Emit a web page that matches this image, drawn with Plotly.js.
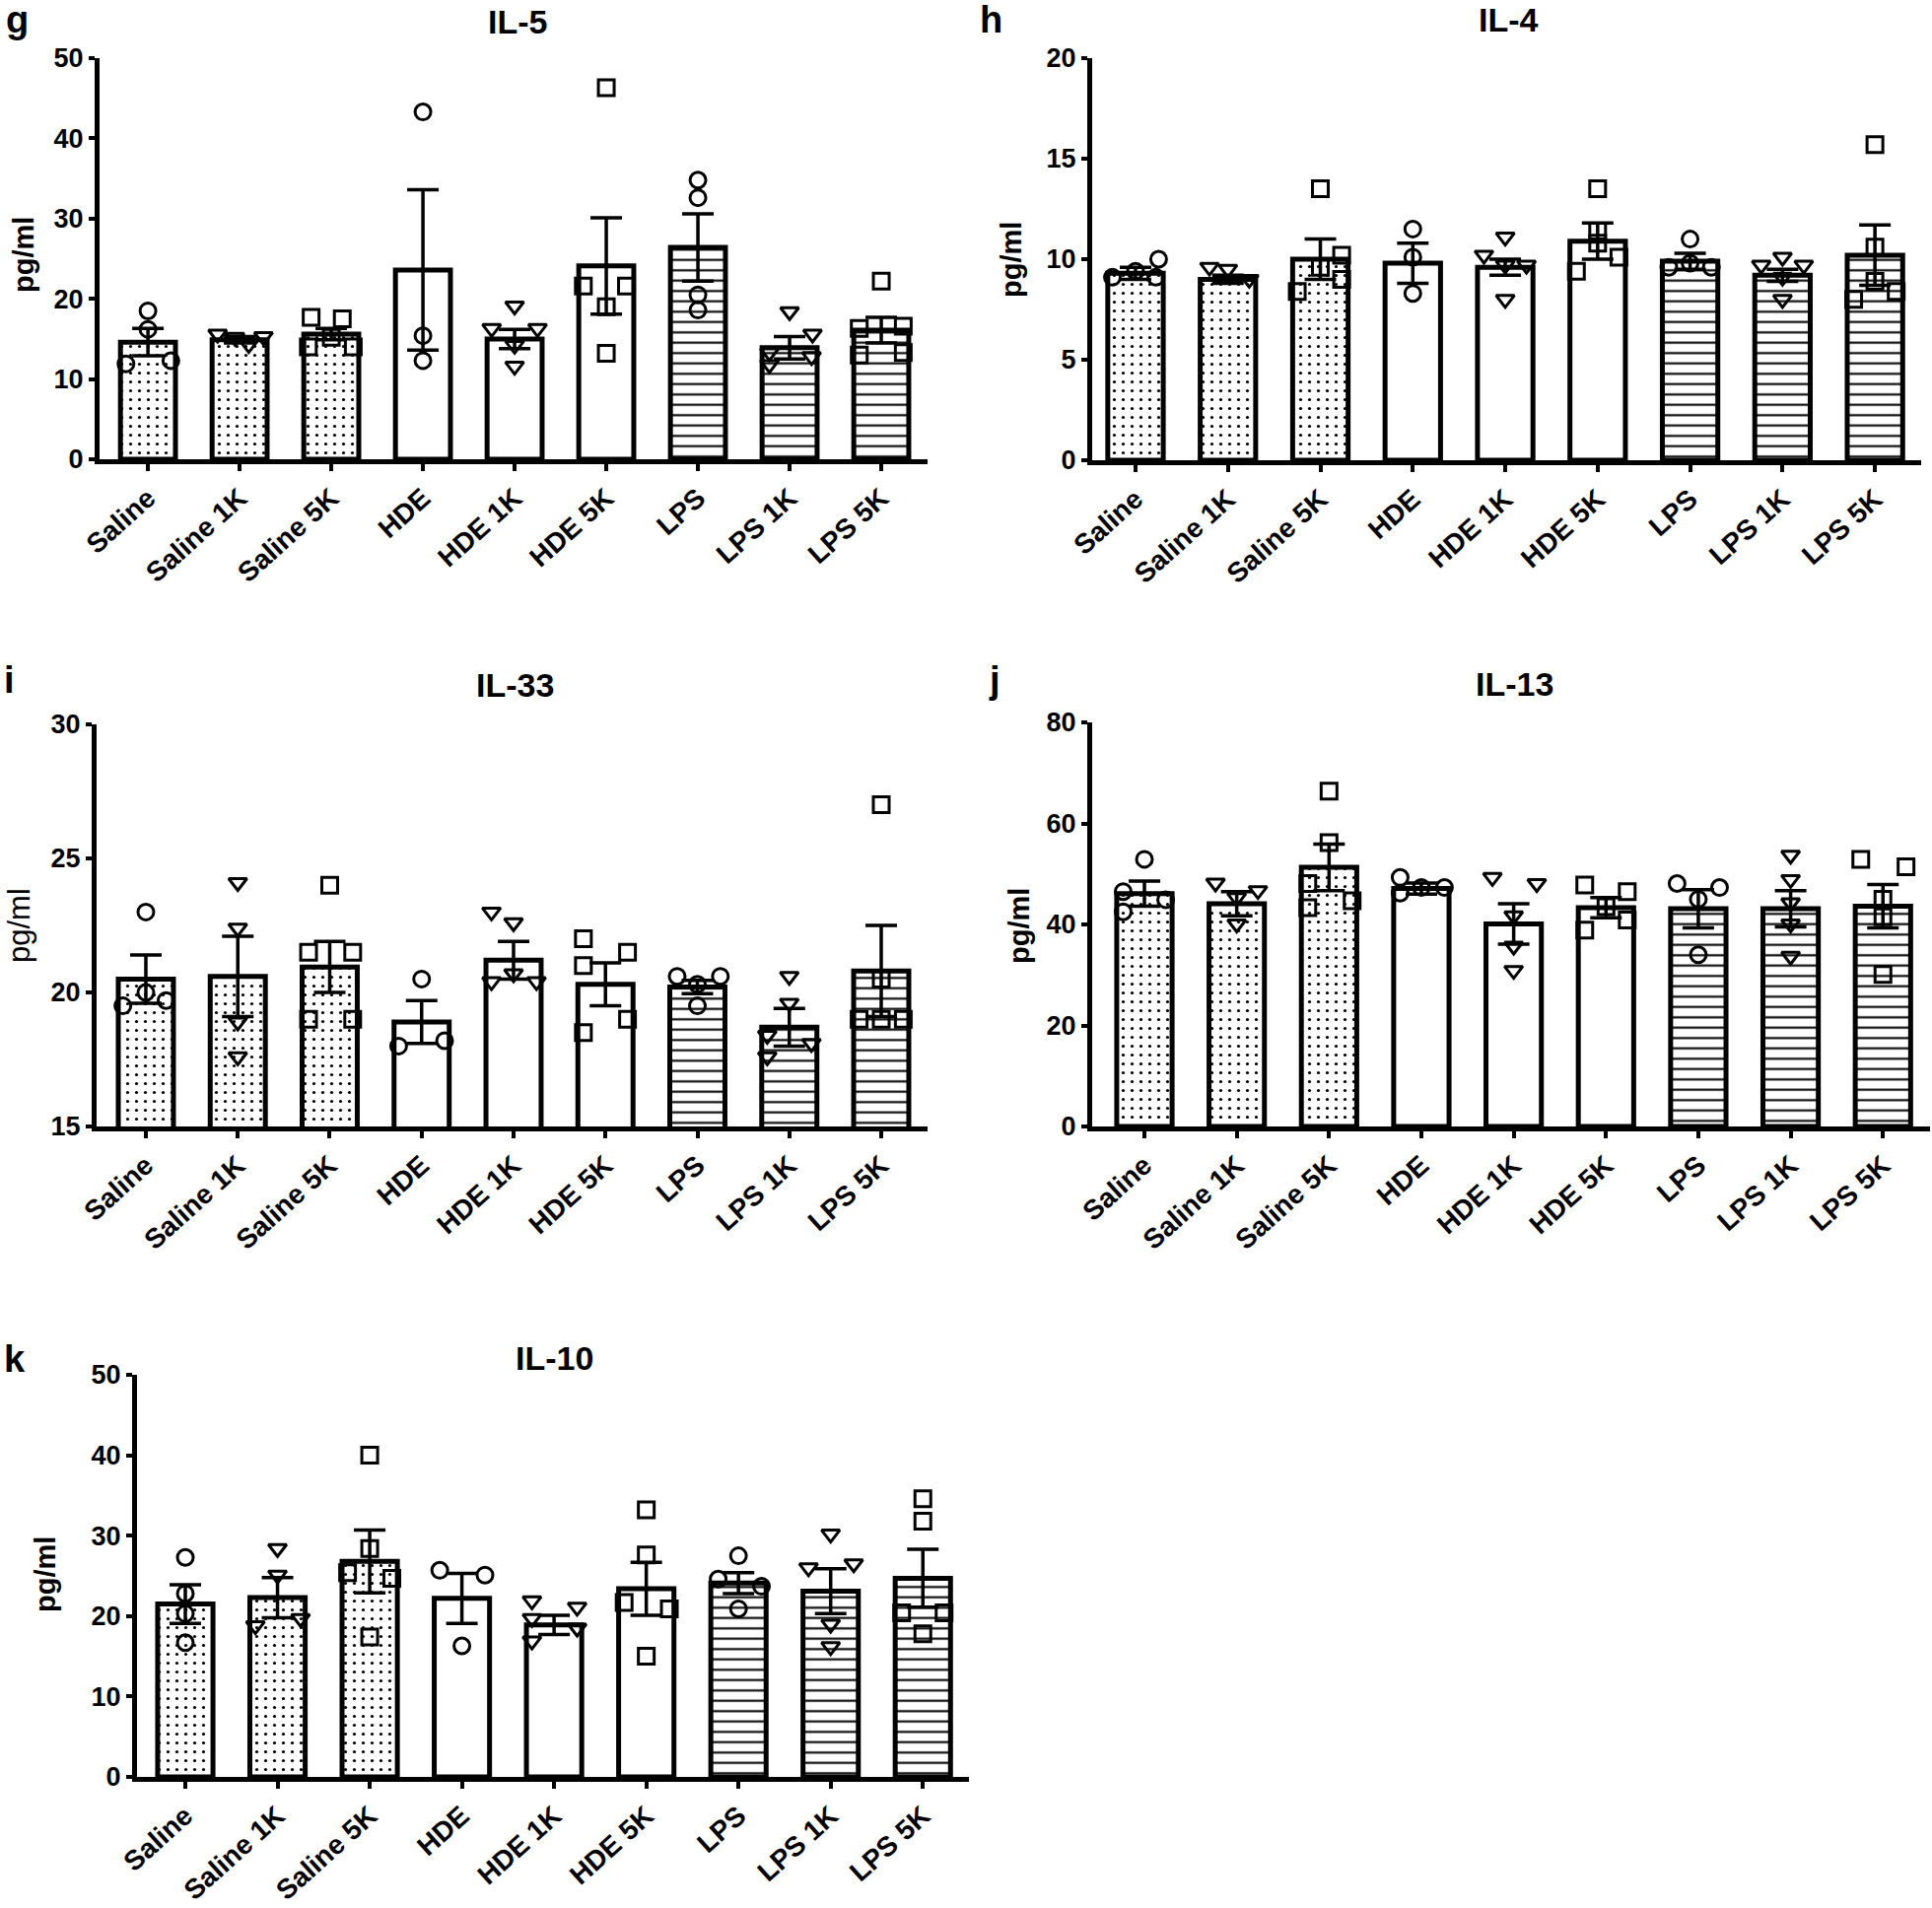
<!DOCTYPE html>
<html>
<head>
<meta charset="utf-8">
<script src="https://cdn.plot.ly/plotly-3.0.1.min.js"></script>
<style>html,body{margin:0;padding:0;background:#fff}#chart{width:1960px;height:1936px}</style>
</head>
<body>
<div id="chart"></div>
<script>
// ---------- data ----------
const categories = ['Saline', 'Saline 1K', 'Saline 5K', 'HDE', 'HDE 1K', 'HDE 5K', 'LPS', 'LPS 1K', 'LPS 5K'];
const pointSymbols = ['circle-open', 'triangle-down-open', 'square-open', 'circle-open', 'triangle-down-open', 'square-open', 'circle-open', 'triangle-down-open', 'square-open'];
const barPatterns = ['.', '.', '.', '', '', '', '-', '-', '-'];

// IL-5
const il5Mean = [14.6, 14.9, 15.6, 23.6, 15.0, 24.1, 26.4, 13.9, 16.1];
const il5Sem = [1.7, 0.4, 0.7, 10.0, 1.2, 6.0, 4.2, 1.4, 1.6];
const il5Points = [[18.5, 16.2, 11.9, 12.3], [15.6, 15.2, 14.3, 15.3], [17.7, 17.5, 14.0, 14.0, 15.2], [43.3, 15.4, 12.3], [19.1, 16.3, 16.3, 14.2, 11.6], [46.3, 21.6, 21.6, 19.0, 13.2], [34.8, 32.6, 20.5, 18.6], [18.4, 15.6, 13.3, 11.8, 12.8], [22.2, 16.3, 16.6, 13.0, 13.3]];
const il5Offsets = [[0, 0, -0.24, 0.25], [-0.24, -0.05, 0.1, 0.26], [-0.22, 0.12, -0.25, 0.24, 0], [0, 0, 0], [0, -0.25, 0.25, 0, 0], [0, -0.25, 0.22, 0, 0], [0, 0, 0, 0], [0, 0.25, -0.22, -0.22, 0.24], [0, -0.24, 0.24, -0.24, 0.24]];

// IL-4
const il4Mean = [9.3, 9.0, 10.0, 9.8, 9.6, 10.9, 9.9, 9.2, 10.2];
const il4Sem = [0.3, 0.2, 1.0, 1.0, 0.4, 0.9, 0.4, 0.3, 1.5];
const il4Points = [[9.1, 9.4, 10.0, 9.1], [9.6, 9.5, 9.0], [13.5, 10.2, 9.6, 9.0, 8.4], [11.5, 10.1, 8.3], [11.1, 10.2, 9.7, 9.7, 8.0], [13.5, 11.4, 10.8, 9.4, 10.1], [11.0, 9.6, 9.6, 9.8], [10.1, 9.7, 9.7, 9.1, 8.0], [15.7, 10.6, 8.9, 8.0, 8.4]];
const il4Offsets = [[-0.25, 0, 0.25, 0.22], [-0.2, 0, 0.23], [0, 0.23, 0, 0.23, -0.25], [0, 0, 0], [0, -0.23, 0, 0.23, 0], [0, 0, 0, -0.23, 0.23], [0, -0.23, 0.23, 0], [0, -0.23, 0.23, 0, 0], [0, 0, 0, -0.23, 0.23]];

// IL-33
const il33Mean = [20.5, 20.6, 20.95, 18.9, 21.2, 20.3, 20.2, 18.7, 20.8];
const il33Sem = [0.9, 1.5, 0.95, 0.8, 0.7, 0.8, 0.25, 0.7, 1.7];
const il33Points = [[23.0, 20.0, 19.5, 19.7], [24.1, 22.4, 18.9, 17.6], [24.0, 21.5, 21.5, 19.0, 19.0], [20.5, 18.0, 18.2], [23.0, 22.6, 20.4, 20.7, 20.4], [22.0, 21.5, 21.0, 19.0, 18.5], [20.6, 20.6, 20.3, 19.5], [20.6, 19.6, 18.4, 17.6, 18.1], [27.0, 20.5, 19.0, 19.0, 19.0]];
const il33Offsets = [[0, 0, -0.25, 0.22], [0, 0, 0, 0], [0, -0.23, 0.25, -0.23, 0.25], [0, -0.25, 0.25], [-0.24, 0, -0.24, 0, 0.25], [-0.24, 0.24, -0.24, 0.24, -0.24], [-0.22, 0.25, 0, 0], [0, 0, -0.24, -0.24, 0.24], [0, 0, -0.24, 0, 0.24]];

// IL-13
const il13Mean = [46.1, 44.1, 51.3, 47.1, 40.1, 43.3, 43.1, 43.1, 43.6];
const il13Sem = [2.5, 2.4, 4.6, 1.1, 4.0, 2.0, 3.8, 3.6, 4.3];
const il13Points = [[52.9, 46.5, 44.9, 42.5], [48.2, 46.7, 45.3, 40.1], [66.4, 56.2, 48.1, 43.3, 44.7], [49.3, 46.2, 47.3, 47.3], [49.3, 48.1, 41.7, 35.7, 30.9], [47.8, 46.5, 43.5, 38.9, 40.9], [48.1, 47.3, 45.0, 34.0], [53.7, 48.9, 44.3, 40.1, 33.7], [52.9, 51.4, 45.0, 41.5, 30.1]];
const il13Offsets = [[0, -0.23, 0.23, -0.23], [-0.23, 0.23, 0, 0], [0, 0, -0.23, -0.23, 0.25], [-0.23, -0.23, 0, 0.25], [-0.23, 0.25, 0, 0, 0], [-0.23, 0.23, 0, -0.23, 0.23], [-0.23, 0.23, 0, 0], [0, 0, 0, 0, 0], [-0.24, 0.25, 0, 0, 0]];

// IL-10
const il10Mean = [21.5, 22.3, 26.8, 22.2, 18.9, 23.4, 24.1, 23.1, 24.7];
const il10Sem = [2.4, 2.5, 3.9, 3.1, 1.2, 3.3, 1.3, 2.8, 3.6];
const il10Points = [[27.3, 22.8, 20.3, 16.7], [28.4, 25.1, 18.8, 19.7], [40.0, 28.4, 25.4, 24.7, 17.4], [25.7, 25.1, 16.3], [21.9, 21.1, 19.7, 18.5, 16.9], [33.2, 27.6, 21.7, 20.9, 15.0], [27.5, 24.6, 23.7, 20.9], [30.2, 26.0, 26.5, 19.0, 16.2], [34.6, 31.8, 20.4, 20.4, 17.8]];
const il10Offsets = [[0, 0, 0, 0], [0, 0, -0.24, 0.25], [0, 0, -0.24, 0.24, 0], [-0.24, 0.25, 0], [-0.24, 0.25, -0.24, 0.25, -0.24], [0, 0, -0.24, 0.25, 0], [0, -0.22, 0.25, 0], [0, -0.24, 0.25, 0, 0], [0, 0, -0.23, 0.23, 0]];

// ---------- layout helpers ----------
const W = 1960, H = 1936;
const FONT = 'Arial, "Liberation Sans", Helvetica, sans-serif';

const panels = [
  {letter: 'g', title: 'IL-5',  mean: il5Mean,  sem: il5Sem,  pts: il5Points,  offs: il5Offsets,  yr: [0, 50], dtick: 10, boldY: true,
   box: {l: 101, r: 941, t: 59, b: 466}, xr: [-0.528, 8.505], letterPos: [4, 20], titlePos: [525, 22], ylabPos: [24, 259]},
  {letter: 'h', title: 'IL-4',  mean: il4Mean,  sem: il4Sem,  pts: il4Points,  offs: il4Offsets,  yr: [0, 20], dtick: 5, boldY: true,
   box: {l: 1108, r: 1949, t: 59, b: 467}, xr: [-0.469, 8.5], letterPos: [992, 20], titlePos: [1530, 20], ylabPos: [1026, 264]},
  {letter: 'i', title: 'IL-33', mean: il33Mean, sem: il33Sem, pts: il33Points, offs: il33Offsets, yr: [15, 30], dtick: 5, boldY: false,
   box: {l: 98, r: 941, t: 735, b: 1143}, xr: [-0.536, 8.504], letterPos: [2, 690], titlePos: [522, 695], ylabPos: [19, 939]},
  {letter: 'j', title: 'IL-13', mean: il13Mean, sem: il13Sem, pts: il13Points, offs: il13Offsets, yr: [0, 80], dtick: 20, boldY: true,
   box: {l: 1108, r: 1958, t: 733, b: 1143}, xr: [-0.566, 8.51], letterPos: [1001, 690], titlePos: [1536, 694], ylabPos: [1034, 940]},
  {letter: 'k', title: 'IL-10', mean: il10Mean, sem: il10Sem, pts: il10Points, offs: il10Offsets, yr: [0, 50], dtick: 10, boldY: true,
   box: {l: 139, r: 983, t: 1395, b: 1803}, xr: [-0.524, 8.5], letterPos: [2, 1379], titlePos: [562, 1378], ylabPos: [46, 1598]}
];

const traces = [];
const layout = {
  width: W, height: H,
  margin: {l: 0, r: 0, t: 0, b: 0},
  paper_bgcolor: '#fff', plot_bgcolor: 'rgba(0,0,0,0)',
  showlegend: false,
  font: {family: FONT, color: '#000'},
  annotations: []
};

const idx = categories.map((c, i) => i);

panels.forEach((p, k) => {
  const n = k === 0 ? '' : String(k + 1);
  const xa = 'x' + n, ya = 'y' + n;
  const patSize = barPatterns.map(s => s === '-' ? 10.5 : 9);
  const patSol = barPatterns.map(s => s === '-' ? 0.2 : 0.1);

  traces.push({
    type: 'bar', x: idx, y: p.mean, xaxis: xa, yaxis: ya, width: 0.6,
    marker: {
      color: '#fff',
      line: {color: '#000', width: 5},
      pattern: {shape: barPatterns, size: patSize, solidity: patSol, fgcolor: '#000', bgcolor: '#fff', fillmode: 'replace'}
    },
    error_y: {type: 'data', array: p.sem, visible: true, color: '#000', thickness: 3.5, width: 16},
    hoverinfo: 'skip'
  });

  const px = [], py = [], ps = [];
  p.pts.forEach((arr, i) => {
    arr.forEach((v, j) => {
      px.push(i + p.offs[i][j]);
      py.push(v);
      ps.push(pointSymbols[i]);
    });
  });
  traces.push({
    type: 'scatter', mode: 'markers', x: px, y: py, xaxis: xa, yaxis: ya,
    cliponaxis: false,
    marker: {symbol: ps, size: 16, color: '#000', line: {color: '#000', width: 3}},
    hoverinfo: 'skip'
  });

  const xKey = 'xaxis' + n, yKey = 'yaxis' + n;
  layout[xKey] = {
    domain: [p.box.l / W, p.box.r / W],
    anchor: ya,
    range: p.xr,
    tickmode: 'array', tickvals: idx, ticktext: categories.map(c => '<b>' + c + '</b>'),
    tickangle: -42,
    tickfont: {family: FONT, size: 28, color: '#000'},
    showline: true, linecolor: '#000', linewidth: 5,
    ticks: 'outside', ticklen: 7, tickwidth: 4, tickcolor: '#000',
    showgrid: false, zeroline: false, fixedrange: true
  };
  layout[yKey] = {
    domain: [1 - p.box.b / H, 1 - p.box.t / H],
    anchor: xa,
    range: p.yr, dtick: p.dtick, tick0: p.yr[0],
    tickfont: {family: FONT, size: 27, color: '#000', weight: 'bold'},
    showline: true, linecolor: '#000', linewidth: 5,
    ticks: 'outside', ticklen: 6, tickwidth: 4, tickcolor: '#000',
    showgrid: false, zeroline: false, fixedrange: true
  };

  layout.annotations.push({
    xref: 'paper', yref: 'paper', x: p.letterPos[0] / W, y: 1 - p.letterPos[1] / H,
    xanchor: 'left', yanchor: 'middle', showarrow: false,
    text: '<b>' + p.letter + '</b>', font: {family: FONT, size: 38, color: '#000'}
  });
  layout.annotations.push({
    xref: 'paper', yref: 'paper', x: p.titlePos[0] / W, y: 1 - p.titlePos[1] / H,
    xanchor: 'center', yanchor: 'middle', showarrow: false,
    text: '<b>' + p.title + '</b>', font: {family: FONT, size: 34, color: '#000'}
  });
  layout.annotations.push({
    xref: 'paper', yref: 'paper', x: p.ylabPos[0] / W, y: 1 - p.ylabPos[1] / H,
    xanchor: 'center', yanchor: 'middle', showarrow: false, textangle: -90,
    text: p.boldY ? '<b>pg/ml</b>' : 'pg/ml', font: {family: FONT, size: p.boldY ? 29 : 31, color: '#000'}
  });
});

Plotly.newPlot('chart', traces, layout, {staticPlot: true, displayModeBar: false});
</script>
</body>
</html>
